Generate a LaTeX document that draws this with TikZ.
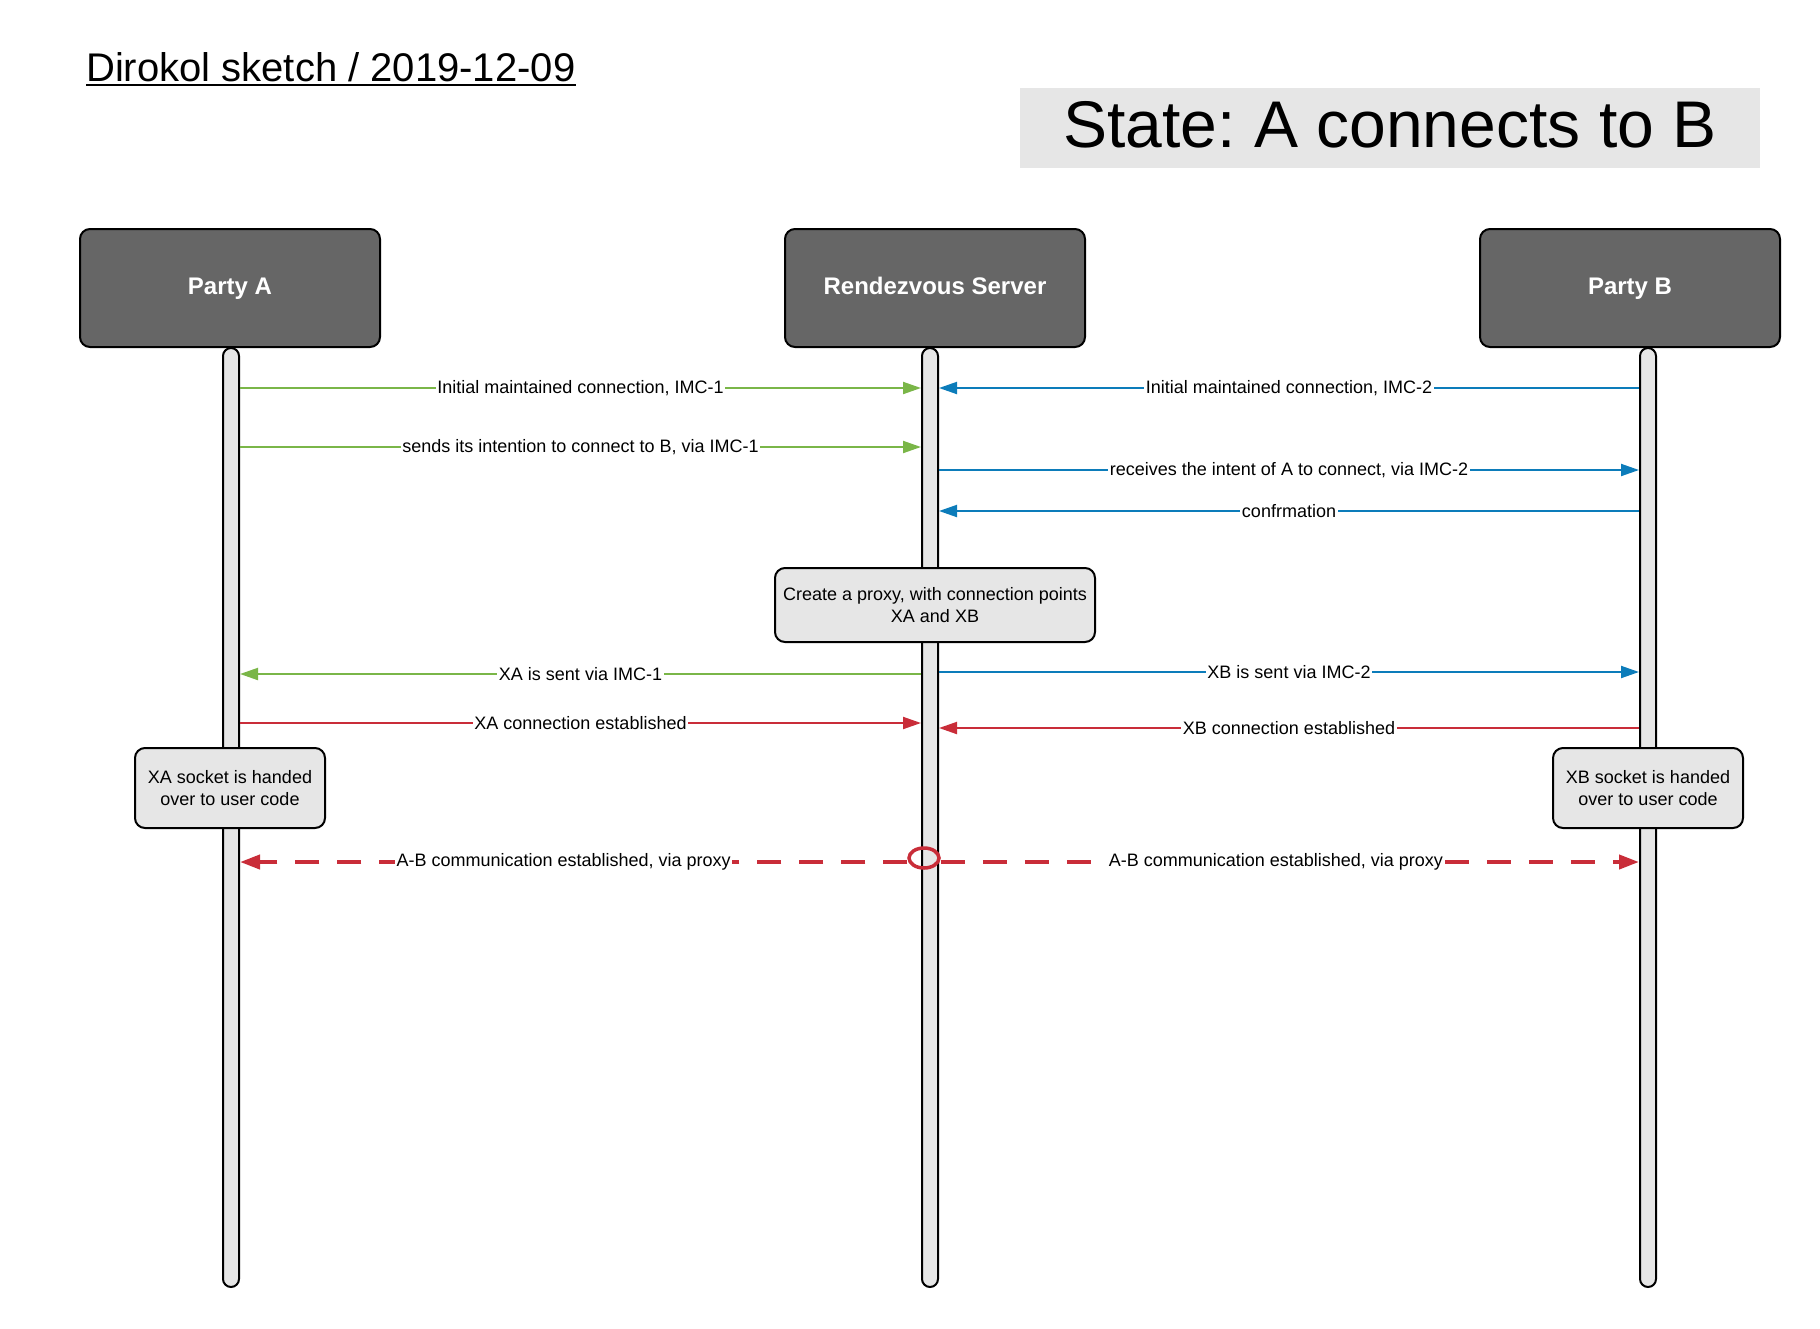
\documentclass[tikz,border=0pt]{standalone}
\usepackage{fontspec}
\setmainfont{Liberation Sans}
\usetikzlibrary{positioning}
\usetikzlibrary{arrows.meta}
\usetikzlibrary{shapes.geometric}
\usetikzlibrary{calc}
\definecolor{imcgreen}{HTML}{7AB648}
\definecolor{imcblue}{HTML}{0C7CBA}
\definecolor{xred}{HTML}{C92D39}
\definecolor{partygray}{HTML}{666666}
\definecolor{lanegray}{HTML}{E6E6E6}
\tikzstyle{party} = [draw=black, line width=2pt, fill=partygray, rounded corners=10pt,
  minimum width=300pt, minimum height=118pt, text=white, text height=17.2pt, text depth=5pt,
  font=\fontsize{24}{28}\selectfont\bfseries]
\tikzstyle{lifeline} = [draw=black, line width=2pt, fill=lanegray, rounded corners=8pt,
  minimum width=16pt, minimum height=939pt, inner sep=0pt]
\tikzstyle{note} = [draw=black, line width=2pt, fill=lanegray, rounded corners=10pt,
  align=center, font=\fontsize{18}{22}\selectfont]
\tikzstyle{msg} = [line width=2pt, -{Triangle[length=18pt,width=12pt]}]
\tikzstyle{viaproxy} = [draw=xred, line width=4pt, dash pattern=on 24pt off 18pt,
  -{Triangle[length=20pt,width=14pt]}]
\tikzstyle{lbl} = [fill=white, text=black, inner sep=1.5pt, font=\fontsize{18}{22}\selectfont]

\begin{document}
\frenchspacing
\begin{tikzpicture}[x=1pt, y=-1pt]
  \useasboundingbox (0,0) rectangle (1820,1328);

  % headings
  \node[anchor=base west, inner sep=0pt, font=\fontsize{40}{48}\selectfont] (title) at (86,81) {Dirokol sketch / 2019-12-09};
  \draw[line width=2.5pt] ([yshift=-4pt]title.base west) -- ([yshift=-4pt]title.base east);
  \node[fill=lanegray, minimum width=740pt, minimum height=80pt, text height=48pt, text depth=10pt,
    font=\fontsize{66}{72}\selectfont] (state) at (1390,128) {State: A connects to B};

  % parties and lifelines
  \node[party] (pA) at (230,288) {Party A};
  \node[party] (pS) at (935,288) {Rendezvous Server};
  \node[party] (pB) at (1630,288) {Party B};
  \node[lifeline] (lA) at (231,817.5) {};
  \node[lifeline] (lS) at (930,817.5) {};
  \node[lifeline] (lB) at (1648,817.5) {};

  % messages
  \draw[msg, draw=imcgreen] (lA.east |- 0,388) -- node[lbl]{Initial maintained connection, IMC-1} (lS.west |- 0,388);
  \draw[msg, draw=imcblue] (lB.west |- 0,388) -- node[lbl]{Initial maintained connection, IMC-2} (lS.east |- 0,388);
  \draw[msg, draw=imcgreen] (lA.east |- 0,447) -- node[lbl]{sends its intention to connect to B, via IMC-1} (lS.west |- 0,447);
  \draw[msg, draw=imcblue] (lS.east |- 0,470) -- node[lbl]{receives the intent of A to connect, via IMC-2} (lB.west |- 0,470);
  \draw[msg, draw=imcblue] (lB.west |- 0,511) -- node[lbl]{confrmation} (lS.east |- 0,511);

  \node[note, minimum width=320pt, minimum height=74pt] (proxy) at (935,605) {Create a proxy, with connection points\\XA and XB};

  \draw[msg, draw=imcgreen] (lS.west |- 0,674) -- node[lbl]{XA is sent via IMC-1} (lA.east |- 0,674);
  \draw[msg, draw=imcblue] (lS.east |- 0,672) -- node[lbl]{XB is sent via IMC-2} (lB.west |- 0,672);
  \draw[msg, draw=xred] (lA.east |- 0,723) -- node[lbl]{XA connection established} (lS.west |- 0,723);
  \draw[msg, draw=xred] (lB.west |- 0,728) -- node[lbl]{XB connection established} (lS.east |- 0,728);

  \node[note, minimum width=190pt, minimum height=80pt] (sockA) at (230,788) {XA socket is handed\\over to user code};
  \node[note, minimum width=190pt, minimum height=80pt] (sockB) at (1648,788) {XB socket is handed\\over to user code};

  % proxied traffic
  \node[ellipse, draw=xred, line width=3.5pt, minimum width=30pt, minimum height=20pt, inner sep=0pt] (hub) at (924,858) {};
  \draw[viaproxy] (hub.west |- 0,862) -- node[lbl, pos=0.515]{A-B communication established, via proxy} (lA.east |- 0,862);
  \draw[viaproxy] (hub.east |- 0,862) -- node[lbl, pos=0.48]{A-B communication established, via proxy} (lB.west |- 0,862);
\end{tikzpicture}
\end{document}
